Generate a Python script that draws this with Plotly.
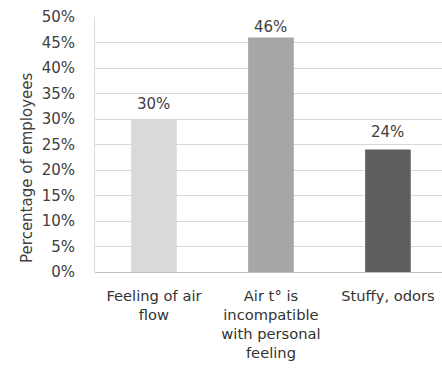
import plotly.graph_objects as go

categories = ["Feeling of air<br>flow",
              "Air t° is<br>incompatible<br>with personal<br>feeling",
              "Stuffy, odors"]
shares = [0.30, 0.46, 0.24]
bar_colors = ["#d9d9d9", "#a6a6a8", "#5d5e60"]
tick_values = [i / 100 for i in range(0, 55, 5)]
tick_labels = [f"{i}%" for i in range(0, 55, 5)]

# pixel lift of each value label above its bar top
label_lift = [15, 10, 18]

FONT = "DejaVu Sans"

fig = go.Figure(
    go.Bar(
        x=categories,
        y=shares,
        marker=dict(color=bar_colors, line=dict(width=0)),
        width=0.39,
        cliponaxis=False,
    )
)

for cat, val, lift in zip(categories, shares, label_lift):
    fig.add_annotation(
        x=cat, y=val, xref="x", yref="y",
        text=f"{round(val * 100)}%",
        showarrow=False,
        yanchor="middle", xanchor="center",
        yshift=lift,
        font=dict(family=FONT, size=15, color="#404040"),
    )

# vertical axis title
fig.add_annotation(
    x=-0.196, y=0.408, xref="paper", yref="paper",
    text="Percentage of employees",
    textangle=-90,
    showarrow=False,
    xanchor="center", yanchor="middle",
    font=dict(family=FONT, size=15, color="#404040"),
)

fig.update_layout(
    width=442,
    height=383,
    margin=dict(l=95, r=0, t=17, b=111),
    paper_bgcolor="white",
    plot_bgcolor="white",
    showlegend=False,
    font=dict(family=FONT, color="#404040"),
)

fig.update_xaxes(
    range=[-0.504, 2.462],
    showgrid=False,
    showline=False,
    ticks="",
    ticklabelstandoff=13,
    tickfont=dict(family=FONT, size=14.7, color="#333333"),
)

fig.update_yaxes(
    range=[0, 0.5],
    tickvals=tick_values,
    ticktext=tick_labels,
    showgrid=True,
    gridcolor="#d9d9d9",
    gridwidth=1,
    showline=True,
    linecolor="#d9d9d9",
    linewidth=1,
    zeroline=True,
    zerolinecolor="#bfbfbf",
    zerolinewidth=1,
    tickfont=dict(family=FONT, size=15, color="#404040"),
    ticklabelstandoff=16,
)

fig.write_html("out.html")
